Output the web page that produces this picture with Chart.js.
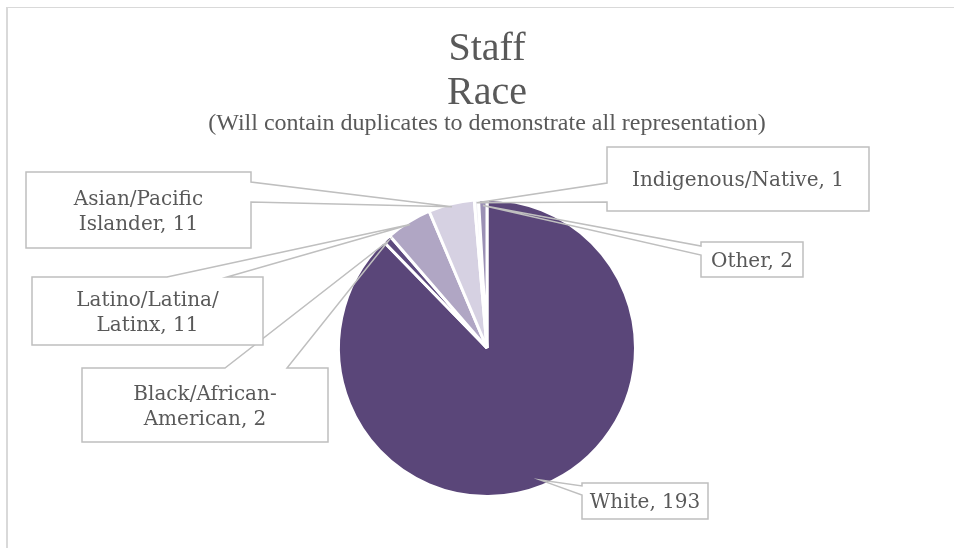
<!DOCTYPE html>
<html>
<head>
<meta charset="utf-8">
<title>Staff Race</title>
<script src="https://cdn.jsdelivr.net/npm/chart.js@4.4.1/dist/chart.umd.min.js"></script>
<style>
  html, body { margin: 0; padding: 0; background: #ffffff; }
  #wrap { position: relative; width: 954px; height: 548px; overflow: hidden; }
  #frame {
    position: absolute; left: 6px; top: 7px; width: 980px; height: 600px;
    border-left: 2px solid #d9d9d9; border-top: 1px solid #d9d9d9; box-sizing: border-box;
  }
  #chart { position: absolute; left: 0; top: 0; }
</style>
</head>
<body>
<div id="wrap">
  <div id="frame"></div>
  <canvas id="chart" width="954" height="548"></canvas>
</div>
<script>
// Staff headcount by race (a person may appear in more than one group)
const categories = [
  'White',
  'Black/African-American',
  'Latino/Latina/Latinx',
  'Asian/Pacific Islander',
  'Indigenous/Native',
  'Other'
];
const staffCounts = [193, 2, 11, 11, 1, 2];
const sliceColors = ['#5a4679', '#5d4a7e', '#b0a6c4', '#d6d1e2', '#f1eff5', '#9b90b5'];

const titleLines = ['Staff', 'Race'];
const subtitleText = '(Will contain duplicates to demonstrate all representation)';

// Where each category name wraps inside its callout box
const nameBreaks = {
  'Black/African-American': ['Black/African-', 'American'],
  'Latino/Latina/Latinx': ['Latino/Latina/', 'Latinx'],
  'Asian/Pacific Islander': ['Asian/Pacific', 'Islander']
};

// Callout boxes: box rectangle, the side the pointer leaves from, and the pointer base span along that side
const calloutLayout = [
  { index: 0, box: { x: 582, y: 483, w: 126, h: 36 }, side: 'left',  base: [3, 12],    reach: 0.96 },
  { index: 1, box: { x: 82,  y: 368, w: 246, h: 74 }, side: 'top',   base: [143, 205], reach: 0.98 },
  { index: 2, box: { x: 32,  y: 277, w: 231, h: 68 }, side: 'top',   base: [135, 195], reach: 0.98 },
  { index: 3, box: { x: 26,  y: 172, w: 225, h: 76 }, side: 'right', base: [10, 30],   reach: 0.98 },
  { index: 4, box: { x: 607, y: 147, w: 262, h: 64 }, side: 'left',  base: [36, 55],   reach: 0.98 },
  { index: 5, box: { x: 701, y: 242, w: 102, h: 35 }, side: 'left',  base: [4, 13],    reach: 0.96 }
];

const textColor = '#595959';
const labelFont = '20px "DejaVu Serif"';

function labelLinesFor(i) {
  const name = categories[i];
  const parts = nameBreaks[name] ? nameBreaks[name].slice() : [name];
  parts[parts.length - 1] += ', ' + staffCounts[i];
  return parts;
}

const calloutPlugin = {
  id: 'calloutLabels',
  afterDatasetsDraw(chart) {
    const ctx = chart.ctx;
    const meta = chart.getDatasetMeta(0);
    calloutLayout.forEach(c => {
      const arc = meta.data[c.index];
      const p = arc.getProps(['x', 'y', 'startAngle', 'endAngle', 'outerRadius'], true);
      const mid = (p.startAngle + p.endAngle) / 2;
      const tip = [p.x + Math.cos(mid) * p.outerRadius * c.reach,
                   p.y + Math.sin(mid) * p.outerRadius * c.reach];
      const b = c.box;
      const L = b.x, T = b.y, R = b.x + b.w, B = b.y + b.h;
      const [a1, a2] = c.base;
      let pts;
      if (c.side === 'top') {
        pts = [[L, T], [L + a1, T], tip, [L + a2, T], [R, T], [R, B], [L, B]];
      } else if (c.side === 'right') {
        pts = [[L, T], [R, T], [R, T + a1], tip, [R, T + a2], [R, B], [L, B]];
      } else {
        pts = [[L, T], [R, T], [R, B], [L, B], [L, T + a2], tip, [L, T + a1]];
      }
      ctx.save();
      ctx.fillStyle = '#ffffff';
      ctx.fillRect(L, T, b.w, b.h);
      ctx.beginPath();
      pts.forEach((pt, k) => k ? ctx.lineTo(pt[0], pt[1]) : ctx.moveTo(pt[0], pt[1]));
      ctx.closePath();
      ctx.strokeStyle = '#bfbfbf';
      ctx.lineWidth = 1.5;
      ctx.lineJoin = 'miter';
      ctx.stroke();

      const lines = labelLinesFor(c.index);
      ctx.font = labelFont;
      ctx.fillStyle = textColor;
      ctx.textAlign = 'center';
      ctx.textBaseline = 'alphabetic';
      const lh = 25, cap = 14.6;
      const cx = L + b.w / 2, cy = T + b.h / 2;
      lines.forEach((t, k) => {
        ctx.fillText(t, cx, cy + cap / 2 + (k - (lines.length - 1) / 2) * lh);
      });
      ctx.restore();
    });
  }
};

new Chart(document.getElementById('chart'), {
  type: 'pie',
  data: {
    labels: categories,
    datasets: [{
      data: staffCounts,
      backgroundColor: sliceColors,
      borderColor: '#ffffff',
      borderWidth: 3,
      hoverBorderWidth: 3,
      hoverOffset: 0,
      offset: 0
    }]
  },
  options: {
    responsive: false,
    animation: false,
    events: [],
    rotation: 0,
    layout: { padding: { left: 20, right: 0, top: 0, bottom: 50 } },
    plugins: {
      legend: { display: false },
      tooltip: { enabled: false },
      title: {
        display: true,
        text: titleLines,
        color: textColor,
        font: { family: '"Liberation Serif"', size: 40, weight: 'normal', lineHeight: 1.1 },
        padding: { top: 27, bottom: 0 }
      },
      subtitle: {
        display: true,
        text: subtitleText,
        color: textColor,
        font: { family: '"Liberation Serif"', size: 24, weight: 'normal', lineHeight: 0.75 },
        padding: { top: 0, bottom: 65 }
      }
    }
  },
  plugins: [calloutPlugin]
});
</script>
</body>
</html>
